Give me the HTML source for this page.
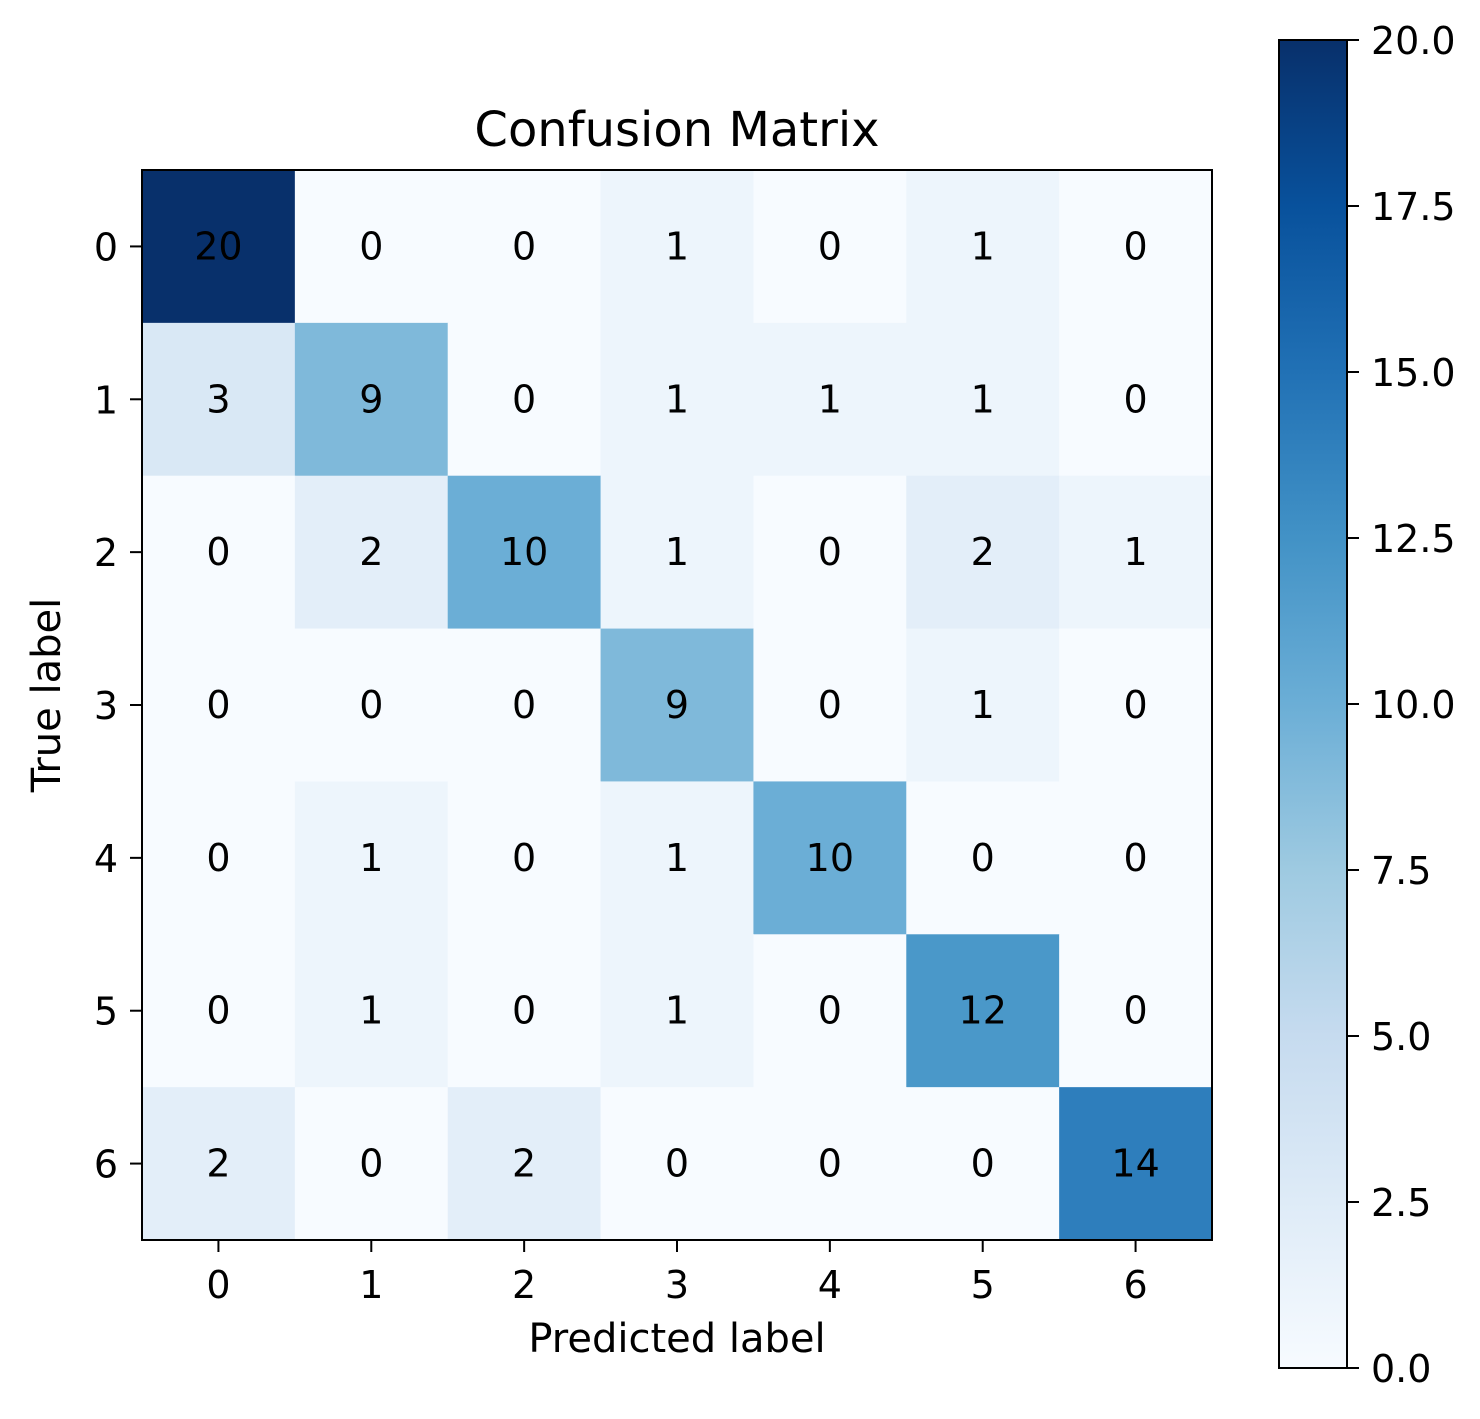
<!DOCTYPE html>
<html><head><meta charset="utf-8"><style>
html,body{margin:0;padding:0;background:#fff;}
svg text{font-family:"DejaVu Sans","Liberation Sans",sans-serif;fill:#000;}
</style></head><body>
<svg id="c" width="1480" height="1414" xmlns="http://www.w3.org/2000/svg"></svg>
<script>
const labels = ["0","1","2","3","4","5","6"];
const matrix = [
 [20,0,0,1,0,1,0],
 [3,9,0,1,1,1,0],
 [0,2,10,1,0,2,1],
 [0,0,0,9,0,1,0],
 [0,1,0,1,10,0,0],
 [0,1,0,1,0,12,0],
 [2,0,2,0,0,0,14]
];
const cbTicks = [0,2.5,5,7.5,10,12.5,15,17.5,20];
const vmin = 0, vmax = 20;

const NS="http://www.w3.org/2000/svg";
const svg=document.getElementById('c');
function mk(t,a,p){const e=document.createElementNS(NS,t);for(const k in a)e.setAttribute(k,a[k]);(p||svg).appendChild(e);return e;}
const stops=["#f7fbff","#deebf7","#c6dbef","#9ecae1","#6baed6","#4292c6","#2171b5","#08519c","#08306b"];
function hex(h){return [1,3,5].map(i=>parseInt(h.substr(i,2),16));}
function blues(v){let t=(v-vmin)/(vmax-vmin);t=Math.max(0,Math.min(1,t));const s=t*8;const i=Math.min(7,Math.floor(s));const f=s-i;const a=hex(stops[i]),b=hex(stops[i+1]);return "rgb("+a.map((x,k)=>Math.round(x+(b[k]-x)*f)).join(",")+")";}
const X0=142,Y0=170,W=1070,H=1070,n=labels.length,cw=W/n,ch=H/n;
const xs=j=>X0+j*cw, ys=i=>Y0+i*ch;
const g=mk('g',{});

matrix.forEach((row,i)=>row.forEach((v,j)=>{
 const r=mk('rect',{x:xs(j),y:ys(i),width:cw+0.5,height:ch+0.5,fill:blues(v)},g);
 
 
 const t=mk('text',{x:xs(j)+cw/2,y:ys(i)+ch/2+13,'text-anchor':'middle','font-size':38},g);
 
 
 t.textContent=v;
}));
const fr=mk('rect',{x:X0,y:Y0,width:W,height:H,fill:'none',stroke:'#000','stroke-width':2});

labels.forEach((l,k)=>{
 mk('line',{x1:xs(k)+cw/2,x2:xs(k)+cw/2,y1:Y0+H,y2:Y0+H+12,stroke:'#000','stroke-width':2});
 const tx=mk('text',{x:xs(k)+cw/2,y:Y0+H+58,'text-anchor':'middle','font-size':38});
 tx.textContent=l;
 mk('line',{x1:X0-12,x2:X0,y1:ys(k)+ch/2,y2:ys(k)+ch/2,stroke:'#000','stroke-width':2});
 const ty=mk('text',{x:X0-24,y:ys(k)+ch/2+14,'text-anchor':'end','font-size':38});
 ty.textContent=l;
});
let e=mk('text',{x:X0+W/2,y:146,'text-anchor':'middle','font-size':48});e.textContent='Confusion Matrix';

e=mk('text',{x:X0+W/2,y:1352,'text-anchor':'middle','font-size':40});e.textContent='Predicted label';

e=mk('text',{x:60,y:Y0+H/2-10,'text-anchor':'middle','font-size':40,transform:'rotate(-90 60 '+(Y0+H/2-10)+')'});e.textContent='True label';

const CX=1279,CY0=40,CW=68,CH=1328;
const defs=mk('defs',{});const lg=mk('linearGradient',{id:'cb',x1:0,y1:1,x2:0,y2:0},defs);
stops.forEach((s,k)=>mk('stop',{offset:k/8,'stop-color':s},lg));
const cb=mk('rect',{x:CX,y:CY0,width:CW,height:CH,fill:'url(#cb)',stroke:'#000','stroke-width':2});

const cy=v=>CY0+CH-(v-vmin)/(vmax-vmin)*CH;
cbTicks.forEach(v=>{
 mk('line',{x1:CX+CW,x2:CX+CW+12,y1:cy(v),y2:cy(v),stroke:'#000','stroke-width':2});
 const t=mk('text',{x:CX+CW+24,y:cy(v)+14,'font-size':38});
 
 t.textContent=v.toFixed(1);
});
</script>
</body></html>
